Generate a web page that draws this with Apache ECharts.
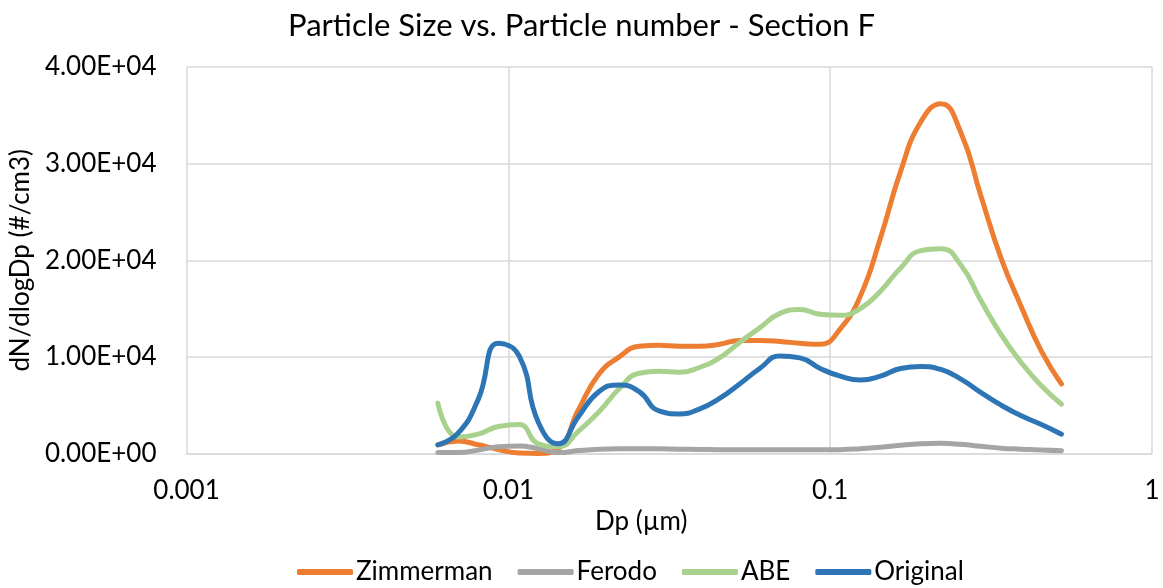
<!DOCTYPE html>
<html>
<head>
<meta charset="utf-8">
<script src="https://cdn.jsdelivr.net/npm/echarts@6/dist/echarts.min.js"></script>
<style>
html,body{margin:0;padding:0;background:#fff;}
#chart{width:1163px;height:588px;}
</style>
</head>
<body>
<div id="chart"></div>
<script>
// Particle diameters (µm)
var diameters = [0.00604, 0.00698, 0.00806, 0.00931, 0.0108, 0.0124, 0.0143, 0.0165, 0.0191, 0.0221, 0.0255, 0.0294, 0.0340, 0.0392, 0.0453, 0.0523, 0.0604, 0.0698, 0.0806, 0.0931, 0.1075, 0.1241, 0.1433, 0.1655, 0.1911, 0.2207, 0.2548, 0.2943, 0.3398, 0.3924, 0.4532, 0.5233];

var seriesNames = ['Zimmerman', 'Ferodo', 'ABE', 'Original'];

var zimmerman = [900, 1300, 900, 400, 50, 0, 500, 4500, 8200, 10000, 11100, 11200, 11100, 11100, 11300, 11700, 11700, 11600, 11400, 11300, 12900, 16300, 22300, 29200, 34300, 36200, 33200, 26600, 20200, 15200, 10600, 7200];
var ferodo = [100, 100, 350, 700, 780, 500, 100, 300, 450, 500, 500, 480, 450, 420, 400, 400, 400, 400, 400, 380, 400, 500, 650, 850, 1000, 1050, 950, 750, 550, 450, 350, 280];
var abe = [5200, 1700, 2000, 2800, 3000, 1000, 700, 2300, 4300, 6700, 8300, 8500, 8400, 8900, 9900, 11500, 13000, 14500, 14900, 14400, 14300, 15000, 16800, 19200, 21000, 21200, 19500, 15800, 12300, 9400, 7000, 5100];
var original = [900, 2100, 5600, 11400, 10100, 3200, 1000, 3800, 6400, 7100, 6400, 4400, 4100, 4600, 5700, 7200, 8800, 10100, 9900, 8800, 8000, 7600, 8000, 8800, 9000, 8700, 7700, 6300, 5000, 3900, 3000, 2000];

var colors = ['#ED7D31', '#A5A5A5', '#A9D18E', '#2E75B6'];
var FONT = 'Lato';

function pairs(vals) {
  return diameters.map(function (d, i) { return [d, vals[i]]; });
}
function sci(v) {
  if (v === 0) return '0.00E+00';
  var e = Math.floor(Math.log10(Math.abs(v)));
  var m = v / Math.pow(10, e);
  return m.toFixed(2) + 'E' + (e < 0 ? '-' : '+') + String(Math.abs(e)).padStart(2, '0');
}

var allVals = [zimmerman, ferodo, abe, original];
var chart = echarts.init(document.getElementById('chart'), null, {renderer: 'canvas'});
chart.setOption({
  animation: false,
  backgroundColor: '#fff',
  title: {
    text: 'Particle Size vs. Particle number - Section F',
    left: 'center',
    top: 5,
    textStyle: {fontFamily: FONT, fontSize: 31, fontWeight: 'normal', color: '#000'}
  },
  legend: {
    data: seriesNames,
    left: 292,
    top: 554,
    itemWidth: 56,
    itemHeight: 6,
    itemGap: 25,
    icon: 'roundRect',
    textStyle: {fontFamily: FONT, fontSize: 26, color: '#000', padding: [0, 0, 0, -2]}
  },
  grid: {left: 186, right: 11, top: 67, bottom: 134.5, containLabel: false},
  xAxis: {
    type: 'log',
    logBase: 10,
    min: 0.001,
    max: 1,
    name: 'Dp (µm)',
    nameLocation: 'middle',
    nameGap: 55,
    nameTextStyle: {fontFamily: FONT, fontSize: 26, color: '#000', padding: [0, 56, 0, 0]},
    axisLine: {show: true, lineStyle: {color: '#D9D9D9', width: 1.5}},
    axisTick: {show: false},
    minorTick: {show: false},
    axisLabel: {
      fontFamily: FONT, fontSize: 26, color: '#000', margin: 24,
      formatter: function (v) { return String(+v.toPrecision(6)); }
    },
    splitLine: {show: true, lineStyle: {color: '#D9D9D9', width: 1.5}}
  },
  yAxis: {
    type: 'value',
    min: 0,
    max: 40000,
    interval: 10000,
    name: 'dN/dlogDp (#/cm3)',
    nameLocation: 'middle',
    nameGap: 145,
    nameTextStyle: {fontFamily: FONT, fontSize: 26, color: '#000'},
    axisLine: {show: false},
    axisTick: {show: false},
    axisLabel: {fontFamily: FONT, fontSize: 26, color: '#000', margin: 30, formatter: sci},
    splitLine: {show: true, lineStyle: {color: '#D9D9D9', width: 1.5}}
  },
  series: seriesNames.map(function (n, i) {
    return {
      name: n,
      type: 'line',
      data: pairs(allVals[i]),
      smooth: 0.5,
      symbol: 'none',
      showSymbol: false,
      lineStyle: {color: colors[i], width: 5, cap: 'round', join: 'round'},
      itemStyle: {color: colors[i]}
    };
  })
});
</script>
</body>
</html>
